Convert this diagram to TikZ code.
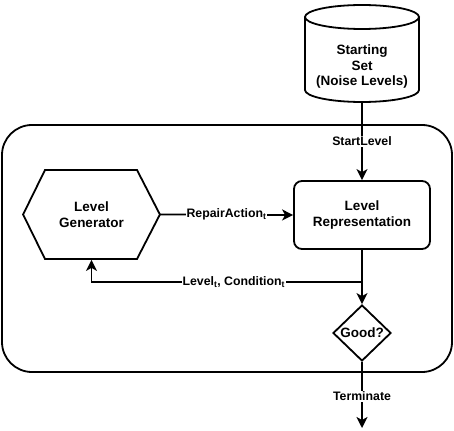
\documentclass[tikz,border=0pt]{standalone}
\usepackage{fontspec}
\setmainfont{Liberation Sans}
\usetikzlibrary{arrows.meta,shapes.geometric}
\begin{document}
\begin{tikzpicture}[x=1pt,y=-1pt,line width=1.8pt,
  every node/.style={font=\fontsize{13.5}{15.5}\selectfont\bfseries},
  arr/.style={-{Stealth[length=11pt,width=11pt,inset=3pt]}},
  elabel/.style={fill=white,inner sep=1pt,font=\fontsize{12.3}{13}\selectfont\bfseries},
  box/.style={draw,rounded corners=8pt,minimum width=136pt,minimum height=68pt,align=center}]
\useasboundingbox (0,0) rectangle (454,430);
% outer loop container
\node[draw,rounded corners=30pt,minimum width=450pt,minimum height=247pt] (loop) at (227,248.5) {};
% cylinder
\node[minimum width=114pt,minimum height=70pt,align=center,inner sep=0pt] (set) at (362,67) {Starting\\Set\\(Noise Levels)};
\draw (305,17) -- (305,90) arc[start angle=180,end angle=360,x radius=57pt,y radius=12pt] -- (419,17);
\draw (362,17) ellipse [x radius=57pt,y radius=12pt];
% level representation
\node[box] (rep) at (362,215) {Level\\Representation};
% hexagon
\node[minimum width=135pt,minimum height=89pt,align=center] (gen) at (91.5,214.5) {Level\\Generator};
\draw (gen.west) -- (45,170) -- (137,170) -- (gen.east) -- (137,259) -- (45,259) -- cycle;
% decision
\node[draw,diamond,inner sep=0pt,minimum width=58pt,minimum height=56pt] (dia) at (362,333) {Good?};
\coordinate (j) at (362,282);
\coordinate (term) at (362,428);
% connectors
\draw[arr] (set.south) -- node[elabel]{StartLevel} (rep.north);
\draw[arr] (gen.east) -- node[elabel]{RepairAction\textsubscript{t}} (rep.west);
\draw[arr] (rep.south) -- (dia.north);
\draw[arr] (j) -| node[elabel,pos=0.237]{Level\textsubscript{t}, Condition\textsubscript{t}} (gen.south);
\draw[arr] (dia.south) -- node[elabel,pos=0.52]{Terminate} (term);
\end{tikzpicture}
\end{document}
